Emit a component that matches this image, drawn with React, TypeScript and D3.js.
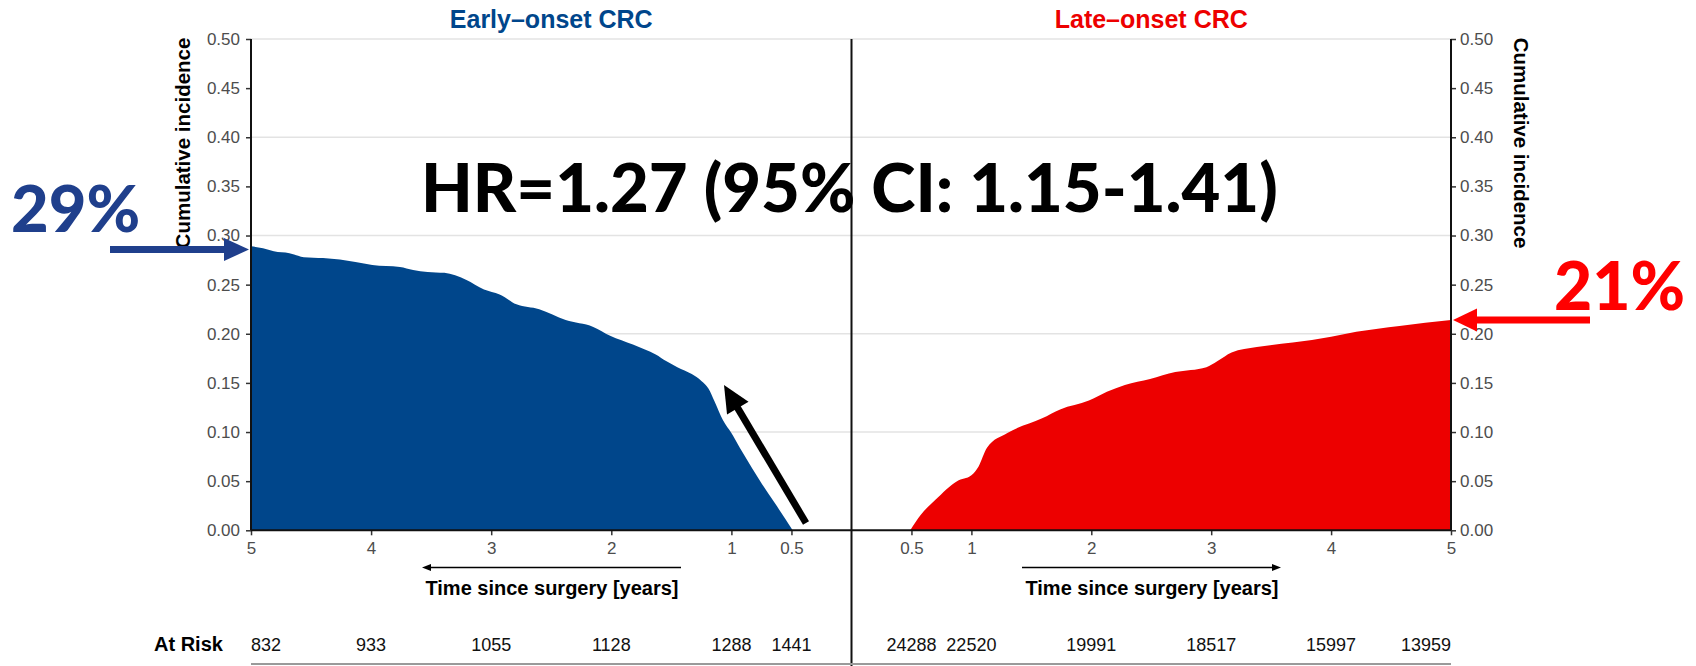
import React, { useEffect, useRef } from "react";
import * as d3 from "d3";

// early-onset CRC (time in years, cumulative incidence)
const earlyTime = [5.0, 4.9, 4.81, 4.68, 4.56, 4.4, 4.26, 4.13, 3.99, 3.76, 3.65, 3.53, 3.39, 3.21, 3.06, 2.93, 2.79, 2.6, 2.38, 2.15, 2.01, 1.82, 1.72, 1.63, 1.54, 1.45, 1.33, 1.25, 1.19, 1.14, 1.07, 1.0, 0.93, 0.9, 0.76, 0.64, 0.49];
const earlyValue = [0.289, 0.287, 0.284, 0.282, 0.278, 0.277, 0.2755, 0.273, 0.27, 0.268, 0.265, 0.263, 0.262, 0.255, 0.245, 0.24, 0.23, 0.225, 0.214, 0.207, 0.198, 0.189, 0.184, 0.179, 0.172, 0.166, 0.159, 0.152, 0.144, 0.131, 0.112, 0.099, 0.084, 0.078, 0.05, 0.028, 0.0];

// late-onset CRC
const lateTime = [0.49, 0.58, 0.7, 0.88, 1.0, 1.06, 1.13, 1.3, 1.59, 1.74, 1.98, 2.13, 2.28, 2.49, 2.7, 2.96, 3.05, 3.17, 3.38, 3.68, 4.0, 4.21, 4.57, 5.0];
const lateValue = [0, 0.016, 0.031, 0.05, 0.056, 0.065, 0.084, 0.099, 0.114, 0.123, 0.132, 0.141, 0.148, 0.154, 0.161, 0.166, 0.172, 0.181, 0.1865, 0.191, 0.197, 0.202, 0.208, 0.214];

const xTicks = [5, 4, 3, 2, 1, 0.5];
const xTickLabels = ["5", "4", "3", "2", "1", "0.5"];
const yTicks = [0, 0.05, 0.1, 0.15, 0.2, 0.25, 0.3, 0.35, 0.4, 0.45, 0.5];
const gridValues = [0.1, 0.2, 0.3, 0.4, 0.5];

const earlyAtRisk = ["832", "933", "1055", "1128", "1288", "1441"];
const lateAtRisk = ["24288", "22520", "19991", "18517", "15997", "13959"];

const BLUE = "#00468B";
const RED = "#ED0000";
const FONT = "'Liberation Sans', Arial, Helvetica, sans-serif";
const BIG = "Lato, 'Open Sans', sans-serif";

export default function App() {
  const svgRef = useRef<SVGSVGElement>(null);

  useEffect(() => {
    document.body.style.margin = "0";
    const svg = d3.select(svgRef.current);
    svg.selectAll("*").remove();

    const width = 1696;
    const height = 666;
    svg.attr("width", width).attr("height", height);

    const xLeft = d3.scaleLinear().domain([5, 0]).range([251, 851.5]);
    const xRight = d3.scaleLinear().domain([0, 5]).range([851.5, 1451]);
    const y = d3.scaleLinear().domain([0, 0.5]).range([530.3, 39]);

    // grid
    svg
      .append("g")
      .selectAll("line")
      .data(gridValues)
      .enter()
      .append("line")
      .attr("x1", xLeft(5))
      .attr("x2", xRight(5))
      .attr("y1", (d) => y(d))
      .attr("y2", (d) => y(d))
      .attr("stroke", "#e3e3e3")
      .attr("stroke-width", 1.5);

    const early = earlyTime.map((t, i) => ({ t, v: earlyValue[i] }));
    const late = lateTime.map((t, i) => ({ t, v: lateValue[i] }));

    const areaLeft = d3
      .area<{ t: number; v: number }>()
      .x((d) => xLeft(d.t))
      .y0(y(0))
      .y1((d) => y(d.v))
      .curve(d3.curveMonotoneX);
    const areaRight = d3
      .area<{ t: number; v: number }>()
      .x((d) => xRight(d.t))
      .y0(y(0))
      .y1((d) => y(d.v))
      .curve(d3.curveMonotoneX);

    svg.append("path").datum(early).attr("d", areaLeft).attr("fill", BLUE);
    svg.append("path").datum(late).attr("d", areaRight).attr("fill", RED);

    // y axes
    const yFmt = d3.format(".2f");
    const gl = svg
      .append("g")
      .attr("transform", `translate(${xLeft(5)},0)`)
      .call(d3.axisLeft(y).tickValues(yTicks).tickFormat(yFmt as any).tickSize(5).tickPadding(6));
    const gr = svg
      .append("g")
      .attr("transform", `translate(${xRight(5)},0)`)
      .call(d3.axisRight(y).tickValues(yTicks).tickFormat(yFmt as any).tickSize(5).tickPadding(4));

    // x axes
    const gxl = svg
      .append("g")
      .attr("transform", `translate(0,${y(0)})`)
      .call(
        d3
          .axisBottom(xLeft)
          .tickValues(xTicks)
          .tickFormat((d, i) => xTickLabels[i])
          .tickSize(5)
          .tickPadding(7)
      );
    const gxr = svg
      .append("g")
      .attr("transform", `translate(0,${y(0)})`)
      .call(
        d3
          .axisBottom(xRight)
          .tickValues(xTicks)
          .tickFormat((d, i) => xTickLabels[i])
          .tickSize(5)
          .tickPadding(7)
      );

    [gl, gr, gxl, gxr].forEach((g) => {
      g.select(".domain").remove();
      g.selectAll(".tick line").attr("stroke", "#333").attr("stroke-width", 1.5);
      g.selectAll(".tick text")
        .attr("fill", "#4d4d4d")
        .style("font-family", FONT)
        .style("font-size", "17px");
    });

    // axis lines
    const axisLine = (x1: number, y1: number, x2: number, y2: number) =>
      svg
        .append("line")
        .attr("x1", x1)
        .attr("y1", y1)
        .attr("x2", x2)
        .attr("y2", y2)
        .attr("stroke", "#111")
        .attr("stroke-width", 2);
    axisLine(xLeft(5), y(0.5), xLeft(5), y(0));
    axisLine(xRight(5), y(0.5), xRight(5), y(0));
    axisLine(xLeft(5), y(0), xRight(5), y(0));
    axisLine(xLeft(0), y(0.5), xLeft(0), height);

    // panel titles
    svg
      .append("text")
      .attr("x", (xLeft(5) + xLeft(0)) / 2)
      .attr("y", 28)
      .attr("text-anchor", "middle")
      .attr("fill", BLUE)
      .style("font-family", FONT)
      .style("font-weight", "bold")
      .style("font-size", "25px")
      .text("Early\u2013onset CRC");
    svg
      .append("text")
      .attr("x", (xRight(0) + xRight(5)) / 2)
      .attr("y", 28)
      .attr("text-anchor", "middle")
      .attr("fill", RED)
      .style("font-family", FONT)
      .style("font-weight", "bold")
      .style("font-size", "25px")
      .text("Late\u2013onset CRC");

    // y titles
    svg
      .append("text")
      .attr("transform", `translate(190,143) rotate(-90)`)
      .attr("text-anchor", "middle")
      .attr("fill", "#000")
      .style("font-family", FONT)
      .style("font-weight", "bold")
      .style("font-size", "20.5px")
      .text("Cumulative incidence");
    svg
      .append("text")
      .attr("transform", `translate(1514,143) rotate(90)`)
      .attr("text-anchor", "middle")
      .attr("fill", "#000")
      .style("font-family", FONT)
      .style("font-weight", "bold")
      .style("font-size", "20.5px")
      .text("Cumulative incidence");

    // x titles with direction arrows
    const smallArrow = (x1: number, x2: number, yy: number) => {
      const dir = Math.sign(x2 - x1);
      svg
        .append("line")
        .attr("x1", x1)
        .attr("x2", x2 - dir * 6)
        .attr("y1", yy)
        .attr("y2", yy)
        .attr("stroke", "#000")
        .attr("stroke-width", 1.6);
      svg
        .append("path")
        .attr("d", `M${x2},${yy} L${x2 - dir * 9},${yy - 3.5} L${x2 - dir * 9},${yy + 3.5} Z`)
        .attr("fill", "#000");
    };
    smallArrow(681, 422, 567.5);
    smallArrow(1022, 1281, 567.5);

    [552, 1152].forEach((cx) => {
      svg
        .append("text")
        .attr("x", cx)
        .attr("y", 595)
        .attr("text-anchor", "middle")
        .attr("fill", "#000")
        .style("font-family", FONT)
        .style("font-weight", "bold")
        .style("font-size", "20px")
        .text("Time since surgery [years]");
    });

    // at risk table
    svg
      .append("text")
      .attr("x", 154)
      .attr("y", 651)
      .attr("fill", "#000")
      .style("font-family", FONT)
      .style("font-weight", "bold")
      .style("font-size", "20px")
      .text("At Risk");

    const riskRow = (labels: string[], xs: (t: number) => number, ticks: number[], side: string) =>
      svg
        .append("g")
        .selectAll("text")
        .data(labels)
        .enter()
        .append("text")
        .attr("x", (d, i) => xs(ticks[i]))
        .attr("y", 651)
        .attr("text-anchor", (d, i) =>
          side === "left" && i === 0 ? "start" : side === "right" && i === labels.length - 1 ? "end" : "middle"
        )
        .attr("fill", "#111")
        .style("font-family", FONT)
        .style("font-size", "18px")
        .text((d) => d);
    riskRow(earlyAtRisk, xLeft, xTicks, "left");
    riskRow(lateAtRisk, xRight, [...xTicks].reverse(), "right");

    svg
      .append("line")
      .attr("x1", xLeft(5))
      .attr("x2", xRight(5))
      .attr("y1", 664)
      .attr("y2", 664)
      .attr("stroke", "#9a9a9a")
      .attr("stroke-width", 2);

    // annotation arrows
    const bigArrow = (
      x1: number, y1: number, x2: number, y2: number,
      w: number, headLen: number, headW: number, color: string
    ) => {
      const dx = x2 - x1;
      const dy = y2 - y1;
      const len = Math.sqrt(dx * dx + dy * dy);
      const ux = dx / len;
      const uy = dy / len;
      const bx = x2 - ux * headLen;
      const by = y2 - uy * headLen;
      svg
        .append("line")
        .attr("x1", x1)
        .attr("y1", y1)
        .attr("x2", bx + ux * 1)
        .attr("y2", by + uy * 1)
        .attr("stroke", color)
        .attr("stroke-width", w);
      svg
        .append("path")
        .attr(
          "d",
          `M${x2},${y2} L${bx - uy * headW / 2},${by + ux * headW / 2} L${bx + uy * headW / 2},${by - ux * headW / 2} Z`
        )
        .attr("fill", color);
    };
    bigArrow(110, 249.5, 249, 249.5, 7, 25, 23, "#1F3F8C");
    bigArrow(1590, 320, 1453, 320, 7, 24, 23, "#FF0000");
    bigArrow(806, 523, 724, 385, 7, 27, 25, "#000");

    // annotations
    svg
      .append("text")
      .attr("x", 421)
      .attr("y", 212)
      .attr("fill", "#000")
      .style("font-family", BIG)
      .style("font-weight", "900")
      .style("font-size", "67px")
      .text("HR=1.27 (95% CI: 1.15-1.41)");
    svg
      .append("text")
      .attr("x", 11)
      .attr("y", 232)
      .attr("fill", "#1F3F8C")
      .style("font-family", BIG)
      .style("font-weight", "900")
      .style("font-size", "65px")
      .text("29%");
    svg
      .append("text")
      .attr("x", 1554)
      .attr("y", 310)
      .attr("fill", "#FF0000")
      .style("font-family", BIG)
      .style("font-weight", "900")
      .style("font-size", "66px")
      .text("21%");
  }, []);

  return <svg ref={svgRef} style={{ display: "block", background: "#fff" }}></svg>;
}
